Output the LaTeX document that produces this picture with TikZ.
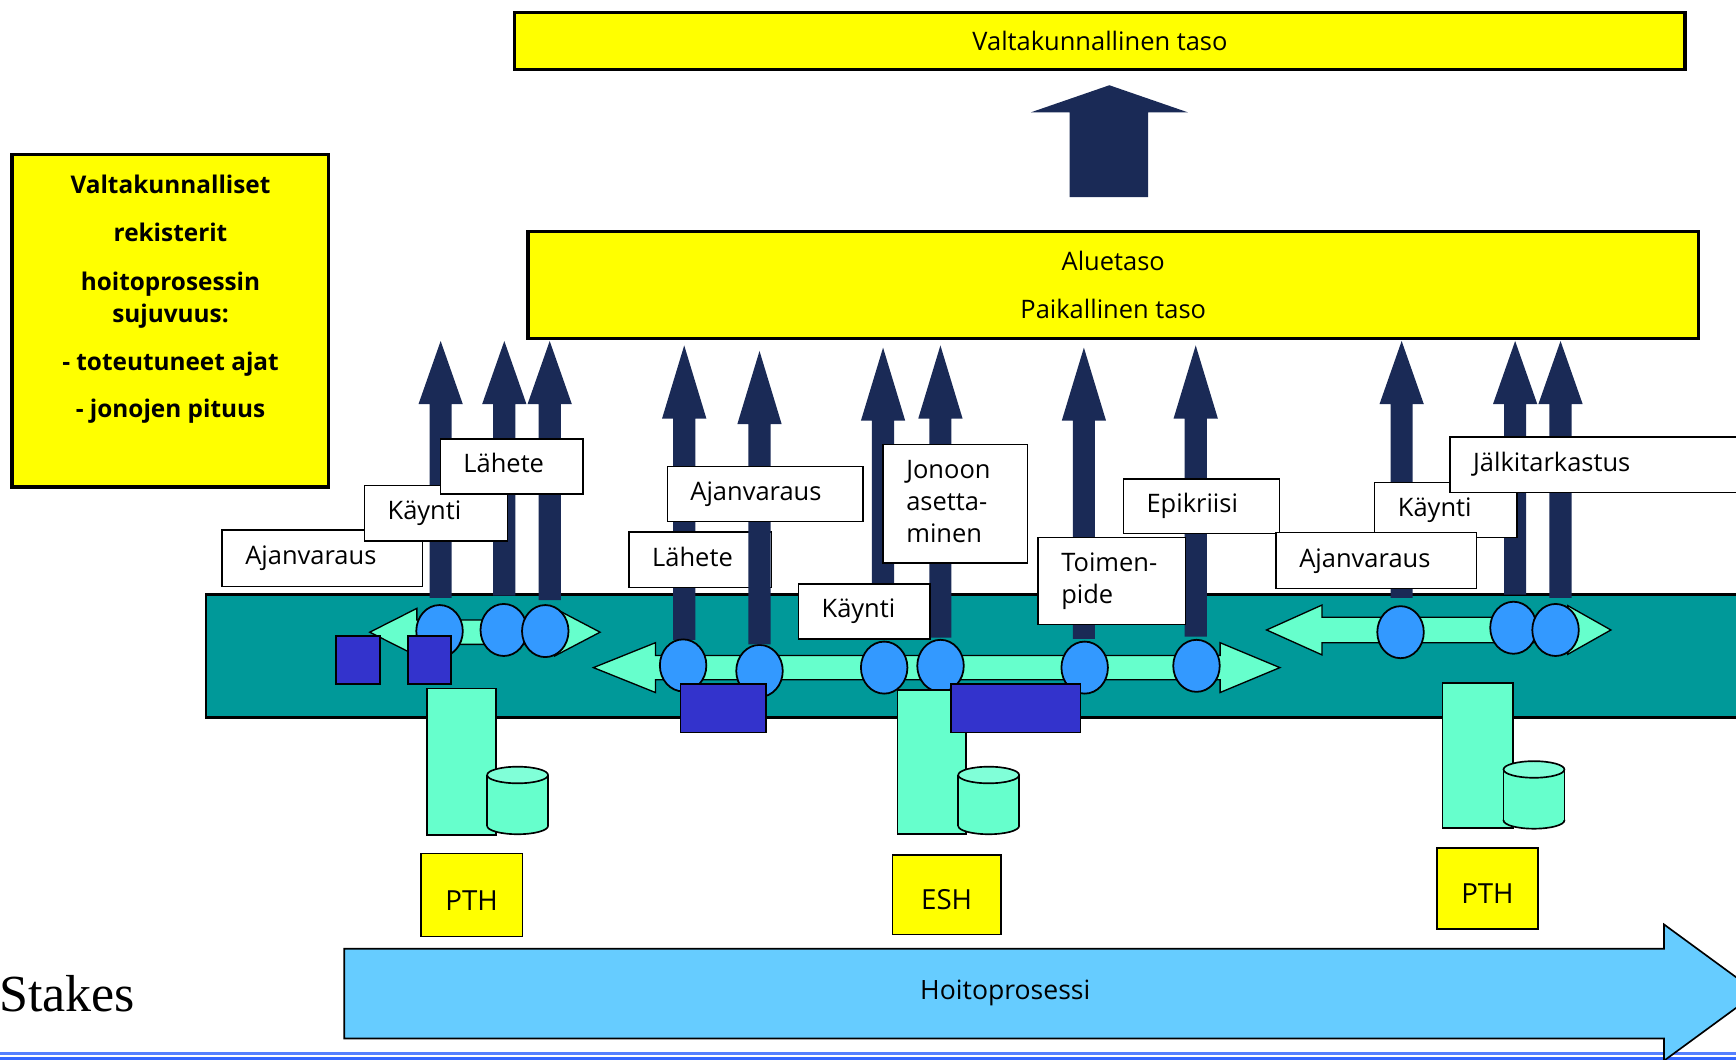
\documentclass[tikz,border=0pt]{standalone}
\usepackage{fontspec}
\setmainfont{Open Sans}
\newfontfamily\stakesfont{Liberation Serif}
\definecolor{tieryellow}{RGB}{255,255,0}
\definecolor{arrownavy}{RGB}{26,42,86}
\definecolor{bandteal}{RGB}{0,153,153}
\definecolor{flowgreen}{RGB}{102,255,204}
\definecolor{cyltop}{RGB}{128,255,216}
\definecolor{dotblue}{RGB}{51,153,255}
\definecolor{chipblue}{RGB}{51,51,204}
\definecolor{processblue}{RGB}{102,204,255}
\definecolor{rulelight}{RGB}{85,128,255}
\definecolor{ruledark}{RGB}{51,102,255}
\begin{document}
\begin{tikzpicture}[x=1pt, y=-1pt,
  tier/.style={draw, line width=3pt, fill=tieryellow, inner sep=0pt},
  lbl/.style={draw, line width=1.2pt, fill=white, anchor=north west, align=left,
    inner xsep=21pt, inner ysep=0pt, font=\fontsize{23}{29}\selectfont,
    execute at begin node=\strut, execute at end node=\strut},
  place/.style={draw, line width=1.5pt, fill=tieryellow, inner sep=0pt,
    text height=35pt, text depth=8pt, font=\fontsize{25}{30}\selectfont},
  flow/.style={draw, line width=1.2pt, fill=flowgreen},
  dot/.style={draw, line width=1.6pt, fill=dotblue},
  chip/.style={draw, line width=1.5pt, fill=chipblue},
  server/.style={draw, line width=1.5pt, fill=flowgreen}]
\useasboundingbox (0,0) rectangle (1568,957);
\clip (0,0) rectangle (1568,957);

% rules at the bottom
\draw[line width=2.6pt, rulelight] (0,951.8) -- (1568,951.8);
\draw[line width=2.5pt, ruledark] (0,956.3) -- (1568,956.3);

% levels
\node[tier, minimum width=1057pt, minimum height=52pt, font=\fontsize{23}{28}\selectfont] (national) at (993.5,37) {Valtakunnallinen taso};
\fill[arrownavy] (966,178) -- (966,101.5) -- (931,101.5) -- (1002,77) -- (1073,101.5) -- (1037,101.5) -- (1037,178) -- cycle;
\node[tier, minimum width=1057pt, minimum height=96.5pt, align=center, font=\fontsize{23}{43}\selectfont] (regional) at (1005.5,257.3) {Aluetaso\\Paikallinen taso};

\node[tier, minimum width=286pt, minimum height=300pt] (registers) at (153.7,289.8) {};
\node[align=center, font=\bfseries\fontsize{22}{29.5}\selectfont] (registerstext) at (154,270.5)
  {Valtakunnalliset\\[14pt]rekisterit\\[14pt]hoitoprosessin\\sujuvuus:\\[13.5pt]- toteutuneet ajat\\[13.5pt]- jonojen pituus};

% band
\draw[line width=2pt, fill=bandteal] (186,537) rectangle (1600,648);

% flows
\draw[flow] (334,571) -- (376.5,549.5) -- (376.5,560) -- (501,560) -- (501,549.5) -- (542,571) -- (501,592.5) -- (501,582) -- (376.5,582) -- (376.5,592.5) -- cycle;
\draw[flow] (536,603) -- (592,580.5) -- (592,592) -- (1102,592) -- (1102,580.5) -- (1156,603) -- (1102,625.5) -- (1102,614) -- (592,614) -- (592,625.5) -- cycle;
\draw[flow] (1144,569) -- (1194,546.5) -- (1194,557.5) -- (1416,557.5) -- (1416,547) -- (1455,569) -- (1416,591) -- (1416,580.5) -- (1194,580.5) -- (1194,591.5) -- cycle;

% reports up
\foreach \x/\t/\b/\h in {398/308/540/57, 455.5/308/538/57, 496.5/308/542/57,
    618/312/578/66, 797.6/314/578/66, 849.4/312/576/66, 979/314/577/66, 1080/312/575/66,
    1266/308/540/57, 1368.5/308/537/57, 1409.5/308/540/57}
  \fill[arrownavy] (\x-10,\b) -- (\x-10,\t+\h) -- (\x-20,\t+\h) -- (\x,\t) -- (\x+20,\t+\h) -- (\x+10,\t+\h) -- (\x+10,\b) -- cycle;

% events
\foreach \x/\y in {397/570, 455/569, 492.5/570, 617/601, 686/606, 798.6/603, 849.5/601.4,
    979.7/603, 1080.7/601.4, 1265/571, 1367/567, 1405/569}
  \filldraw[dot] (\x,\y) ellipse [x radius=21, y radius=23.5];

% systems
\filldraw[server] (385.5,622) rectangle (448,754);
\filldraw[server] (810.7,623.3) rectangle (872.8,753);
\filldraw[server] (1303,617) rectangle (1366.4,748);
\foreach \cx/\yt/\yb in {467.5/700/746, 893/700/746, 1385.5/695/741} {
  \filldraw[server] (\cx,\yb) ellipse [x radius=27.5, y radius=7.5];
  \fill[flowgreen] (\cx-27.5,\yt) rectangle (\cx+27.5,\yb);
  \draw[line width=1.5pt] (\cx-27.5,\yt) -- (\cx-27.5,\yb) (\cx+27.5,\yt) -- (\cx+27.5,\yb);
  \filldraw[server, fill=cyltop] (\cx,\yt) ellipse [x radius=27.5, y radius=7.5];
}
\filldraw[chip] (303.5,574.5) rectangle (343,618);
\filldraw[chip] (368.5,574.5) rectangle (407.5,618);
\filldraw[chip] (614.5,618) rectangle (691.7,661.5);
\filldraw[chip] (859.2,618) rectangle (975.8,661.5);

% labels
\node[lbl, text width=139pt, minimum height=51pt] (ajanvaraus1) at (200,478) {Ajanvaraus};
\node[lbl, text width=87pt, minimum height=50pt] (kaynti1) at (328.5,438) {Käynti};
\node[lbl, text width=87pt, minimum height=49.5pt] (lahete1) at (397,396) {Lähete};

\node[lbl, text width=87pt, minimum height=50pt] (lahete2) at (567.5,480) {Lähete};
\fill[arrownavy] (676,582) -- (676,383) -- (666,383) -- (686,317) -- (706,383) -- (696,383) -- (696,582) -- cycle;
\node[lbl, text width=135pt, minimum height=50pt] (ajanvaraus2) at (602,420.5) {Ajanvaraus};
\node[lbl, text width=88.5pt, minimum height=107pt] (jonoon) at (797,401) {Jonoon\\asetta-\\minen};
\node[lbl, text width=77pt, minimum height=49.5pt] (kaynti2) at (720.5,527) {Käynti};
\node[lbl, text width=91pt, minimum height=78.5pt] (toimenpide) at (937,485) {Toimen-\\pide};
\node[lbl, text width=99pt, minimum height=49.5pt] (epikriisi) at (1014,432) {Epikriisi};

\node[lbl, text width=86.5pt, minimum height=50pt] (kaynti3) at (1241,435) {Käynti};
\node[lbl, text width=139pt, minimum height=50.5pt] (ajanvaraus3) at (1152,480.5) {Ajanvaraus};
\node[lbl, text width=228pt, minimum height=50.5pt] (jalkitarkastus) at (1309,394) {Jälkitarkastus};

% organisations
\node[place, minimum width=92pt, minimum height=75pt] (pth1) at (426,808.5) {PTH};
\node[place, minimum width=98pt, minimum height=72pt] (esh) at (855,808) {ESH};
\node[place, minimum width=91pt, minimum height=73pt] (pth2) at (1343.5,802.5) {PTH};

% process
\draw[line width=1.5pt, fill=processblue] (311,857) -- (1503,857) -- (1503,835) -- (1587,896.5) -- (1503,958) -- (1503,938) -- (311,938) -- cycle;
\node[font=\fontsize{24}{28}\selectfont] (process) at (908,897) {Hoitoprosessi};

\node[anchor=base west, inner sep=0pt, font=\stakesfont\fontsize{47}{50}\selectfont] (stakes) at (-1,914) {Stakes};
\end{tikzpicture}
\end{document}
